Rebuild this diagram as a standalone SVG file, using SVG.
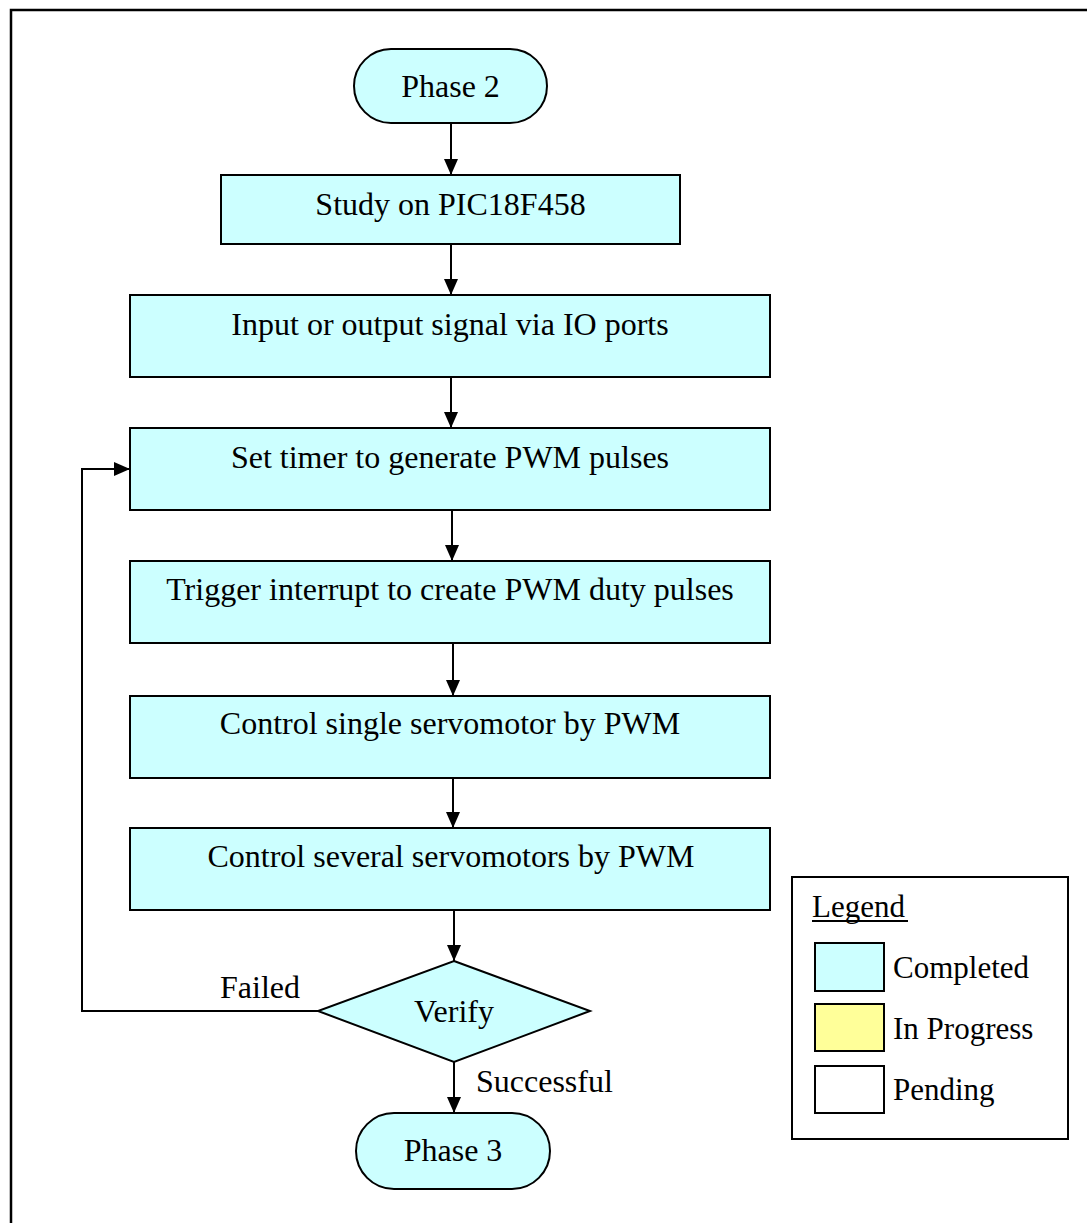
<svg xmlns="http://www.w3.org/2000/svg" width="1087" height="1223" viewBox="0 0 1087 1223">
  <style>
    .done { fill: #CCFFFF; stroke: #000; stroke-width: 2; }
    .t { font-family: "Liberation Serif", "Times New Roman", serif; font-size: 32px; fill: #000; }
    .c { text-anchor: middle; }
    .lt { font-family: "Liberation Serif", "Times New Roman", serif; font-size: 31px; fill: #000; }
    .wire { fill: none; stroke: #000; stroke-width: 2; }
  </style>
  <defs>
    <marker id="arrow" markerUnits="userSpaceOnUse" markerWidth="16" markerHeight="16" viewBox="0 0 16 16" refX="16" refY="8" orient="auto">
      <path d="M0,1 L16,8 L0,15 Z" fill="#000"/>
    </marker>
  </defs>

  <rect width="1087" height="1223" fill="#fff"/>
  <!-- page frame -->
  <path d="M11,1223 V10 H1087" fill="none" stroke="#000" stroke-width="2.5"/>

  <g id="phase2">
    <rect class="done" x="354" y="49" width="193" height="74" rx="37" ry="37"/>
    <text class="t c" x="450.5" y="97">Phase 2</text>
  </g>
  <g id="study">
    <rect class="done" x="221" y="175" width="459" height="69"/>
    <text class="t c" x="450.5" y="215">Study on PIC18F458</text>
  </g>
  <g id="io">
    <rect class="done" x="130" y="295" width="640" height="82"/>
    <text class="t c" x="450" y="335">Input or output signal via IO ports</text>
  </g>
  <g id="timer">
    <rect class="done" x="130" y="428" width="640" height="82"/>
    <text class="t c" x="450" y="468">Set timer to generate PWM pulses</text>
  </g>
  <g id="interrupt">
    <rect class="done" x="130" y="561" width="640" height="82"/>
    <text class="t c" x="450" y="600">Trigger interrupt to create PWM duty pulses</text>
  </g>
  <g id="single">
    <rect class="done" x="130" y="696" width="640" height="82"/>
    <text class="t c" x="450" y="734">Control single servomotor by PWM</text>
  </g>
  <g id="several">
    <rect class="done" x="130" y="828" width="640" height="82"/>
    <text class="t c" x="451" y="867">Control several servomotors by PWM</text>
  </g>
  <g id="verify">
    <polygon class="done" points="454,961 590,1011 454,1062 318,1011"/>
    <text class="t c" x="454" y="1022">Verify</text>
  </g>
  <g id="phase3">
    <rect class="done" x="356" y="1113" width="194" height="76" rx="38" ry="38"/>
    <text class="t c" x="453" y="1161">Phase 3</text>
  </g>

  <g id="connectors">
    <line class="wire" x1="451" y1="123" x2="451" y2="175" marker-end="url(#arrow)"/>
    <line class="wire" x1="451" y1="244" x2="451" y2="295" marker-end="url(#arrow)"/>
    <line class="wire" x1="451" y1="377" x2="451" y2="428" marker-end="url(#arrow)"/>
    <line class="wire" x1="452" y1="510" x2="452" y2="561" marker-end="url(#arrow)"/>
    <line class="wire" x1="453" y1="643" x2="453" y2="696" marker-end="url(#arrow)"/>
    <line class="wire" x1="453" y1="778" x2="453" y2="828" marker-end="url(#arrow)"/>
    <line class="wire" x1="454" y1="910" x2="454" y2="961" marker-end="url(#arrow)"/>
    <line class="wire" x1="454" y1="1062" x2="454" y2="1113" marker-end="url(#arrow)"/>
    <polyline class="wire" points="318,1011 82,1011 82,469 130,469" marker-end="url(#arrow)"/>
    <text class="t" x="220" y="998">Failed</text>
    <text class="t" x="476" y="1092">Successful</text>
  </g>

  <g id="legend">
    <rect x="792" y="877" width="276" height="262" fill="#fff" stroke="#000" stroke-width="2"/>
    <text class="lt" x="812" y="917">Legend</text>
    <line x1="812" y1="921" x2="908" y2="921" stroke="#000" stroke-width="2"/>
    <rect x="815" y="943" width="69" height="48" fill="#CCFFFF" stroke="#000" stroke-width="2"/>
    <text class="lt" x="893" y="978">Completed</text>
    <rect x="815" y="1004" width="69" height="47" fill="#FFFF99" stroke="#000" stroke-width="2"/>
    <text class="lt" x="893" y="1039">In Progress</text>
    <rect x="815" y="1066" width="69" height="47" fill="#fff" stroke="#000" stroke-width="2"/>
    <text class="lt" x="893" y="1100">Pending</text>
  </g>
</svg>
